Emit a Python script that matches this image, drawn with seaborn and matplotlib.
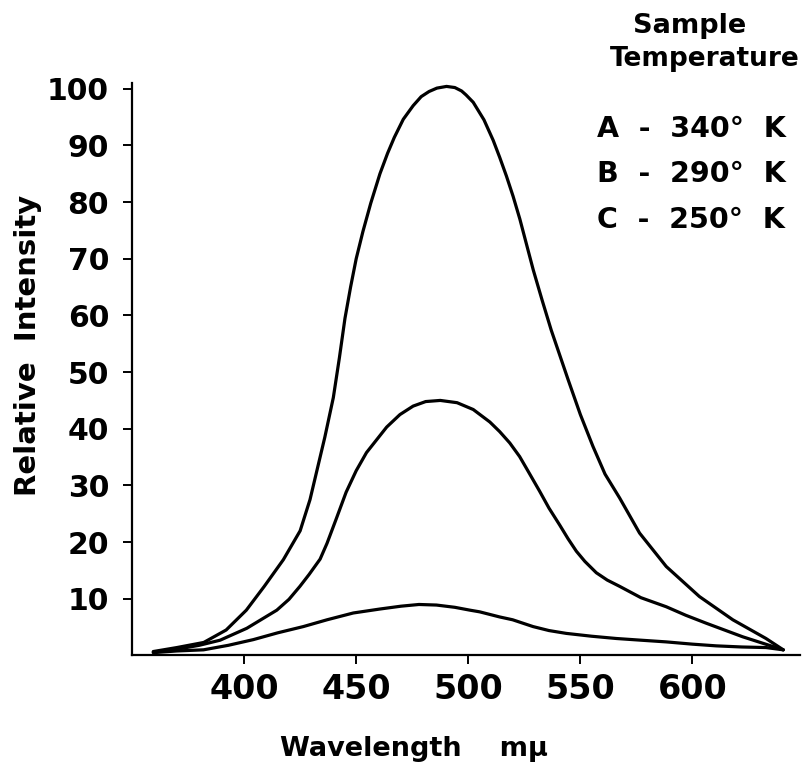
import matplotlib
matplotlib.use("Agg")
import matplotlib.pyplot as plt
import pandas as pd
import seaborn as sns

# curve A - 340 K
a_nm = [359.5, 370, 382, 392, 401, 409, 417.5, 425, 429.4, 432.4, 436, 439.8, 442.5,
        445, 447.5, 450, 453, 456.5, 460.6, 464, 467, 471, 475.4, 479, 482.5, 486,
        490.3, 494, 497, 499, 502.2, 507, 511.1, 514, 517, 520, 523, 526, 529, 533,
        537, 544.5, 550, 555.6, 561, 567.5, 576.4, 588.3, 603.1, 618, 632.8, 640.5]
a_val = [0.7, 1.4, 2.3, 4.5, 8.0, 12.2, 16.9, 22.0, 27.5, 32.5, 38.5, 45.5, 52.5,
         59.5, 65.0, 70.0, 74.8, 79.8, 85.0, 88.6, 91.4, 94.6, 97.0, 98.6, 99.5, 100.1,
         100.4, 100.2, 99.6, 98.9, 97.6, 94.5, 90.9, 87.9, 84.6, 81.0, 77.0, 72.5, 68.0, 62.6,
         57.4, 48.7, 42.5, 36.9, 32.0, 27.8, 21.6, 15.7, 10.4, 6.3, 3.0, 1.0]

# curve B - 290 K
b_nm = [359.5, 370, 380, 389.3, 401.2, 414.6, 420, 424.9, 429, 433.9, 437, 441, 445.5,
        450, 454.6, 460.6, 463.6, 469.5, 475.4, 481, 487.5, 495, 502.2, 509.6, 514,
        518.5, 522.9, 527, 531.8, 536, 540.8, 544.5, 548.2, 552, 557.1, 562, 567.5, 577,
        588.3, 597, 606.1, 622.4, 640.5]
b_val = [0.6, 1.1, 1.8, 2.7, 4.8, 8.0, 9.9, 12.2, 14.3, 17.0, 19.8, 24.0, 28.8,
         32.6, 35.8, 38.8, 40.3, 42.5, 44.0, 44.8, 45.0, 44.6, 43.4, 41.2, 39.5,
         37.5, 35.1, 32.3, 29.0, 26.0, 23.0, 20.6, 18.4, 16.6, 14.6, 13.3, 12.2, 10.2,
         8.6, 7.1, 5.7, 3.3, 1.0]

# curve C - 250 K
c_nm = [359.5, 370, 381.9, 393, 404.1, 415, 426.4, 437, 448.7, 460.6, 470, 478,
        485.8, 494, 500.7, 505.1, 514, 519.8, 528.9, 536, 543.7, 555, 566, 577,
        588.3, 600, 610.6, 622, 632.8, 640.5]
c_val = [0.5, 0.8, 1.0, 1.8, 2.8, 4.0, 5.1, 6.3, 7.5, 8.2, 8.7, 9.0,
         8.9, 8.5, 8.0, 7.7, 6.8, 6.3, 5.1, 4.4, 3.9, 3.4, 3.0, 2.7,
         2.4, 2.0, 1.7, 1.5, 1.4, 1.0]

samples = ["A", "B", "C"]
temps = [340, 290, 250]
x_ticks = [400, 450, 500, 550, 600]
y_ticks = [10, 20, 30, 40, 50, 60, 70, 80, 90, 100]

df = pd.concat([
    pd.DataFrame({"nm": a_nm, "val": a_val, "curve": "A"}),
    pd.DataFrame({"nm": b_nm, "val": b_val, "curve": "B"}),
    pd.DataFrame({"nm": c_nm, "val": c_val, "curve": "C"}),
])

sns.set_style("ticks")
plt.rcParams["font.family"] = ["DejaVu Sans"]
plt.rcParams["font.weight"] = "bold"
plt.rcParams["text.color"] = "black"
plt.rcParams["xtick.color"] = "black"
plt.rcParams["ytick.color"] = "black"
plt.rcParams["axes.edgecolor"] = "black"

fig = plt.figure(figsize=(8.02, 7.63), dpi=100)
ax = fig.add_axes([0.1646, 0.1409, 0.833, 0.7503])

sns.lineplot(data=df, x="nm", y="val", units="curve", estimator=None,
             color="black", lw=2.3, ax=ax)

ax.set_xlim(350, 648)
ax.set_ylim(0, 101)
sns.despine(ax=ax)
for side in ["left", "bottom"]:
    ax.spines[side].set_linewidth(1.6)

ax.set_xticks(x_ticks)
ax.set_yticks(y_ticks)
ax.tick_params(axis="both", direction="out", length=6.5, width=1.4)
ax.tick_params(axis="x", labelsize=24, pad=6)
ax.tick_params(axis="y", labelsize=21.5, pad=10)
for lab in ax.get_xticklabels() + ax.get_yticklabels():
    lab.set_fontweight("bold")
ax.set_xlabel("")
ax.set_ylabel("")

fig.text(280 / 802, (763 - 756) / 763, "Wavelength    m\u03bc", fontsize=19.5,
         fontweight="bold", ha="left", va="baseline")
fig.text(28 / 802, (763 - 345.5) / 763, "Relative  Intensity", fontsize=21,
         fontweight="bold", rotation=90, ha="center", va="center")

fig.text(690 / 802, (763 - 33) / 763, "Sample", fontsize=19.5,
         fontweight="bold", ha="center", va="baseline")
fig.text(800 / 802, (763 - 66) / 763, "Temperature", fontsize=19,
         fontweight="bold", ha="right", va="baseline")
for i, (s, t) in enumerate(zip(samples, temps)):
    base = [137, 182, 228][i]
    fig.text(597 / 802, (763 - base) / 763, f"{s}  -  {t}\u00b0  K", fontsize=20.5,
             fontweight="bold", ha="left", va="baseline")

fig.savefig("out.png", dpi=100, facecolor="white")
